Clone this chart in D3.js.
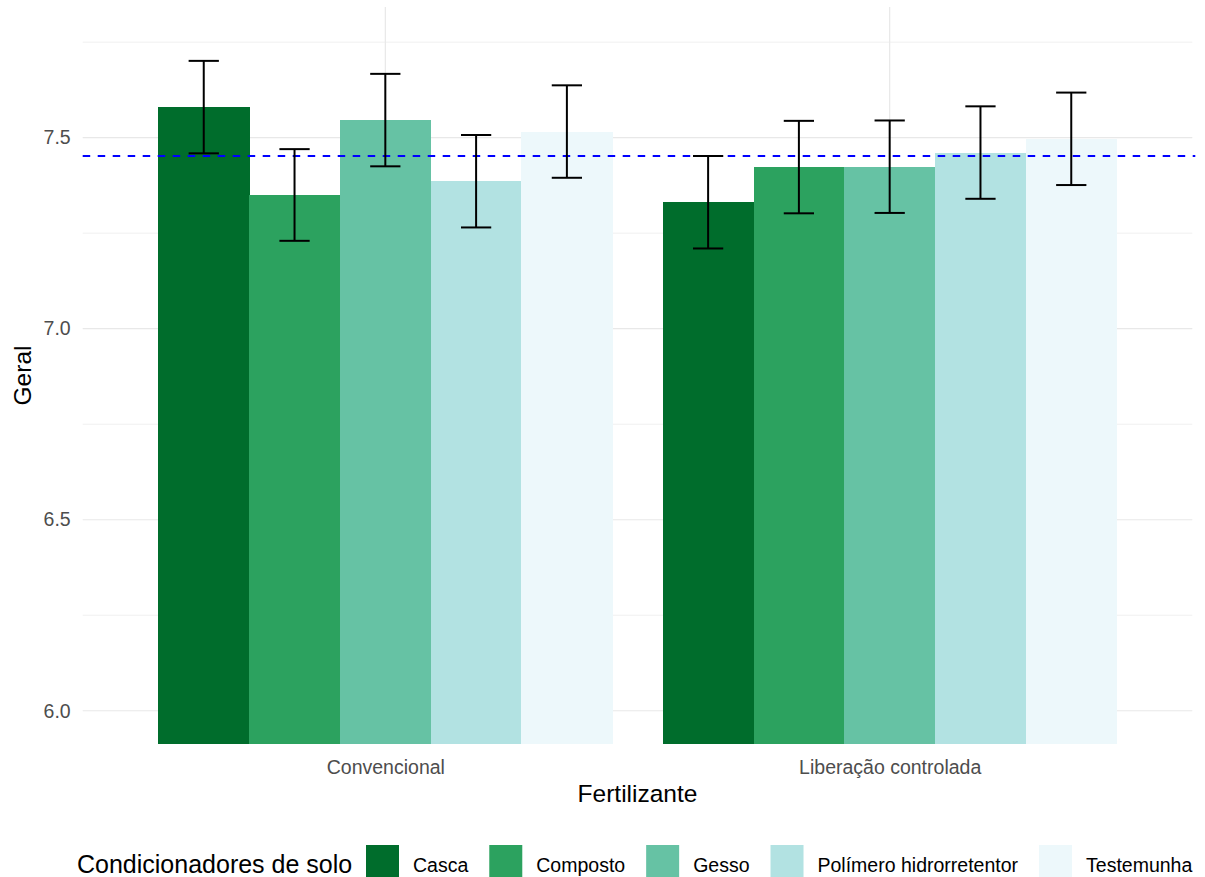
<!DOCTYPE html>
<html>
<head>
<meta charset="utf-8">
<script src="https://cdn.jsdelivr.net/npm/d3@7"></script>
<style>
  html, body { margin: 0; padding: 0; background: #ffffff; }
  svg { display: block; font-family: "Liberation Sans", Arial, Helvetica, sans-serif; }
</style>
</head>
<body>
<svg id="chart" width="1205" height="877"></svg>
<script>
// Fertilizer groups and soil conditioner series
const fertilizers = ["Convencional", "Liberação controlada"];
const conditioners = ["Casca", "Composto", "Gesso", "Polímero hidrorretentor", "Testemunha"];

// Mean "Geral" score per conditioner, one array per fertilizer
const meansConvencional = [7.580, 7.350, 7.546, 7.386, 7.516];
const meansLiberacao    = [7.331, 7.423, 7.424, 7.461, 7.497];

// Half-width of the error bars
const errConvencional = [0.121, 0.120, 0.121, 0.121, 0.121];
const errLiberacao    = [0.121, 0.121, 0.121, 0.121, 0.121];

// Overall mean (dashed reference line)
const overallMean = 7.452;

// Axis ticks
const yTicks = [6.0, 6.5, 7.0, 7.5];
const yMinorTicks = [6.25, 6.75, 7.25, 7.75];

// BuGn palette
const palette = ["#006d2c", "#2ca25f", "#66c2a4", "#b2e2e2", "#edf8fb"];

const rows = [];
fertilizers.forEach((f, i) => {
  const means = i === 0 ? meansConvencional : meansLiberacao;
  const errs = i === 0 ? errConvencional : errLiberacao;
  conditioners.forEach((c, j) => {
    rows.push({ fert: f, cond: c, mean: means[j], err: errs[j] });
  });
});

const svg = d3.select("#chart");
const panel = { left: 82.7, right: 1192.3, top: 7, bottom: 744 };

const x = d3.scalePoint()
  .domain(fertilizers)
  .range([panel.left, panel.right])
  .padding(0.6);

const groupWidth = x.step() * 0.9;
const xInner = d3.scaleBand()
  .domain(conditioners)
  .range([-groupWidth / 2, groupWidth / 2])
  .padding(0);

const y = d3.scaleLinear()
  .domain([5.913, 7.842])
  .range([panel.bottom, panel.top]);

const color = d3.scaleOrdinal().domain(conditioners).range(palette);

// Grid
const grid = svg.append("g");
grid.selectAll("line.minor")
  .data(yMinorTicks)
  .join("line")
  .attr("x1", panel.left).attr("x2", panel.right)
  .attr("y1", d => y(d)).attr("y2", d => y(d))
  .attr("stroke", "#f0f0f0").attr("stroke-width", 1);
grid.selectAll("line.major")
  .data(yTicks)
  .join("line")
  .attr("x1", panel.left).attr("x2", panel.right)
  .attr("y1", d => y(d)).attr("y2", d => y(d))
  .attr("stroke", "#e8e8e8").attr("stroke-width", 1.2);
grid.selectAll("line.vert")
  .data(fertilizers)
  .join("line")
  .attr("x1", d => x(d)).attr("x2", d => x(d))
  .attr("y1", panel.top).attr("y2", panel.bottom)
  .attr("stroke", "#e8e8e8").attr("stroke-width", 1.2);

// Bars
svg.append("g")
  .attr("shape-rendering", "crispEdges")
  .selectAll("rect")
  .data(rows)
  .join("rect")
  .attr("x", d => x(d.fert) + xInner(d.cond))
  .attr("width", xInner.bandwidth() + 0.5)
  .attr("y", d => y(d.mean))
  .attr("height", d => panel.bottom - y(d.mean))
  .attr("fill", d => color(d.cond));

// Overall mean reference line
svg.append("line")
  .attr("x1", panel.left).attr("x2", panel.right + 3)
  .attr("y1", y(overallMean)).attr("y2", y(overallMean))
  .attr("stroke", "#0000ff")
  .attr("stroke-width", 2)
  .attr("stroke-dasharray", "7.5,7.5");

// Error bars
const capHalf = xInner.bandwidth() / 6;
const eb = svg.append("g")
  .attr("stroke", "#000000")
  .attr("stroke-width", 2)
  .selectAll("g")
  .data(rows)
  .join("g")
  .attr("transform", d => `translate(${x(d.fert) + xInner(d.cond) + xInner.bandwidth() / 2},0)`);
eb.append("line")
  .attr("x1", 0).attr("x2", 0)
  .attr("y1", d => y(d.mean + d.err)).attr("y2", d => y(d.mean - d.err));
eb.append("line")
  .attr("x1", -capHalf).attr("x2", capHalf)
  .attr("y1", d => y(d.mean + d.err)).attr("y2", d => y(d.mean + d.err));
eb.append("line")
  .attr("x1", -capHalf).attr("x2", capHalf)
  .attr("y1", d => y(d.mean - d.err)).attr("y2", d => y(d.mean - d.err));

// Axes
const yAxis = svg.append("g")
  .attr("transform", `translate(${panel.left},0)`)
  .call(d3.axisLeft(y).tickValues(yTicks).tickSize(0).tickPadding(12).tickFormat(d3.format(".1f")));
yAxis.select(".domain").remove();
yAxis.selectAll("text")
  .attr("fill", "#4d4d4d")
  .style("font-size", "19.5px")
  .style("font-family", "'Liberation Sans', Arial, sans-serif");

const xAxis = svg.append("g")
  .attr("transform", `translate(0,${panel.bottom})`)
  .call(d3.axisBottom(x).tickSize(0).tickPadding(16));
xAxis.select(".domain").remove();
xAxis.selectAll("text")
  .attr("fill", "#4d4d4d")
  .style("font-size", "19.5px")
  .style("font-family", "'Liberation Sans', Arial, sans-serif");

// Axis titles
svg.append("text")
  .attr("x", (panel.left + panel.right) / 2)
  .attr("y", 802)
  .attr("text-anchor", "middle")
  .attr("fill", "#000")
  .style("font-size", "24.5px")
  .text("Fertilizante");

svg.append("text")
  .attr("transform", `translate(31,${(panel.top + panel.bottom) / 2}) rotate(-90)`)
  .attr("text-anchor", "middle")
  .attr("fill", "#000")
  .style("font-size", "24.5px")
  .text("Geral");

// Legend
const legend = svg.append("g");
legend.append("text")
  .attr("x", 77)
  .attr("y", 873)
  .attr("fill", "#000")
  .style("font-size", "25px")
  .text("Condicionadores de solo");

let lx = 366;
const keySize = 33;
conditioners.forEach(c => {
  legend.append("rect")
    .attr("x", lx).attr("y", 845)
    .attr("width", keySize).attr("height", keySize)
    .attr("fill", color(c));
  const t = legend.append("text")
    .attr("x", lx + keySize + 14)
    .attr("y", 872)
    .attr("fill", "#000")
    .style("font-size", "19.5px")
    .text(c);
  lx += keySize + 14 + t.node().getComputedTextLength() + 21;
});
</script>
</body>
</html>
